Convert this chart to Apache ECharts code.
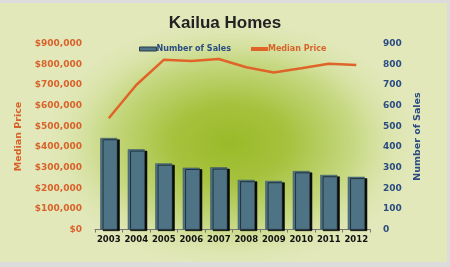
<!DOCTYPE html>
<html><head><meta charset="utf-8">
<script src="https://cdn.jsdelivr.net/npm/echarts@6/dist/echarts.min.js"></script>
<style>html,body{margin:0;padding:0;background:#dcdcdc;}#c{width:450px;height:267px;}</style>
</head><body><div id="c"></div>
<script>
var years = ['2003','2004','2005','2006','2007','2008','2009','2010','2011','2012'];
var salesCount = [443, 388, 320, 299, 301, 240, 235, 283, 264, 255];
var medianPrice = [538000, 699000, 821000, 815000, 825000, 785000, 760000, 780000, 802000, 796000];
var priceTicks = [0, 900000, 100000];
var salesTicks = [0, 900, 100];

var chart = echarts.init(document.getElementById('c'), null, {renderer:'canvas'});
var gL = 95, gR = 80, gT = 43.5, gB = 37.5;
chart.setOption({
  animation:false,
  backgroundColor:'transparent',
  graphic:[
    {type:'rect', z:-10, shape:{x:0,y:3,width:447,height:259}, style:{fill:'#e2e8ba'}},
    {type:'rect', z:-9, x:0, y:3, scaleX:1.5, scaleY:1,
      shape:{x:0,y:0,width:298,height:259},
      style:{fill:new echarts.graphic.RadialGradient(0.515,0.54,0.5,[
        {offset:0,color:'#9aba28'},{offset:0.3,color:'#a6c23e'},{offset:0.65,color:'#c8d985'},{offset:1,color:'rgba(226,232,186,0)'}])}}
  ],
  title:{text:'Kailua Homes', left:'center', top:10,
    textStyle:{fontFamily:'Liberation Sans', fontWeight:'bold', fontSize:17, color:'#222'}},
  legend:{top:40, left:134, itemGap:20, itemWidth:17, itemHeight:4,
    textStyle:{fontFamily:'DejaVu Sans', fontWeight:'bold', fontSize:8, padding:[0,0,0,-5]},
    data:[
      {name:'Number of Sales', icon:'rect', textStyle:{color:'#2b4c82'}, itemStyle:{color:'#4e7385',borderColor:'#2b3e4a',borderWidth:1,shadowBlur:0,shadowOffsetX:0,shadowOffsetY:0}},
      {name:'Median Price', icon:'rect', itemStyle:{color:'#e06428'}, textStyle:{color:'#d9622b'}}
    ]},
  grid:{left:gL, right:gR, top:gT, bottom:gB, containLabel:false},
  xAxis:{type:'category', data:years,
    axisLine:{lineStyle:{color:'#777'}},
    axisTick:{show:true, length:3, lineStyle:{color:'#777'}},
    axisLabel:{interval:0, color:'#111', fontFamily:'DejaVu Sans', fontWeight:'bold', fontSize:8.5, margin:6}},
  yAxis:[
    {type:'value', min:priceTicks[0], max:priceTicks[1], interval:priceTicks[2],
      name:'Median Price', nameLocation:'middle', nameGap:68, nameRotate:90,
      nameTextStyle:{color:'#d9622b', fontFamily:'DejaVu Sans', fontWeight:'bold', fontSize:9.5},
      splitLine:{show:false}, axisLine:{show:false}, axisTick:{show:false},
      axisLabel:{color:'#d9622b', fontFamily:'DejaVu Sans', fontWeight:'bold', fontSize:9, margin:13,
        formatter:function(v){return '$'+v.toString().replace(/\B(?=(\d{3})+(?!\d))/g, ',');}}},
    {type:'value', min:salesTicks[0], max:salesTicks[1], interval:salesTicks[2],
      name:'Number of Sales', nameLocation:'middle', nameGap:40, nameRotate:90,
      nameTextStyle:{color:'#2b4c82', fontFamily:'DejaVu Sans', fontWeight:'bold', fontSize:9.5},
      splitLine:{show:false}, axisLine:{show:false}, axisTick:{show:false},
      axisLabel:{color:'#2b4c82', fontFamily:'DejaVu Sans', fontWeight:'bold', fontSize:9, margin:13}}
  ],
  series:[
    {name:'Number of Sales', type:'bar', yAxisIndex:1, data:salesCount, barWidth:17,
      itemStyle:{color:'#4e7385', borderColor:'#3a5866', borderWidth:0.6,
        shadowColor:'rgba(0,0,0,0.95)', shadowOffsetX:2.5, shadowOffsetY:1.5, shadowBlur:0}},
    {name:'Median Price', type:'line', yAxisIndex:0, data:medianPrice, symbol:'none',
      lineStyle:{color:'#e06428', width:2.5}, itemStyle:{color:'#e06428'}, z:5}
  ]
});
</script></body></html>
